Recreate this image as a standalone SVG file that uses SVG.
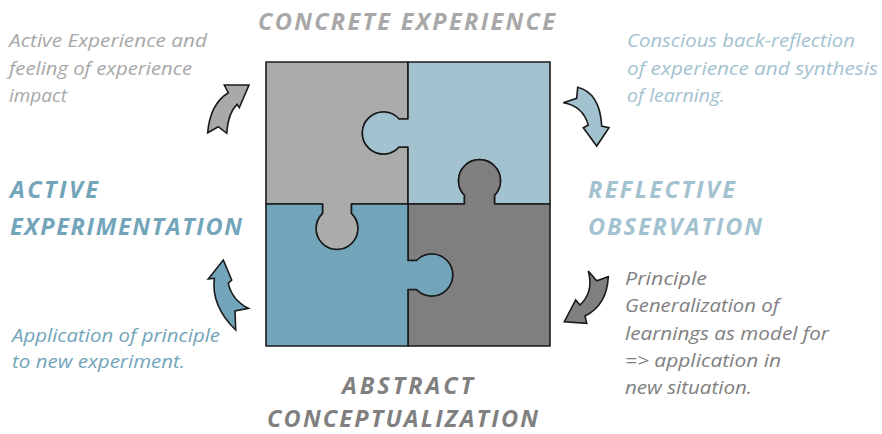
<svg xmlns="http://www.w3.org/2000/svg" width="882" height="434" viewBox="0 0 882 434">
  <style>
    .piece { stroke: #1a1a1a; stroke-width: 1.6; stroke-linejoin: round; }
    .arrow { stroke: #1a1a1a; stroke-width: 1.6; stroke-linejoin: miter; }
    .title { font-family: "Open Sans", "Liberation Sans", sans-serif; font-weight: 700; font-size: 23.5px; font-style: italic; }
    .note { font-family: "Open Sans", "Liberation Sans", sans-serif; font-size: 18px; font-style: italic; }
    .grey-l { fill: #a8a8a8; }
    .grey-d { fill: #808080; }
    .blue-l { fill: #a3c2cf; }
    .blue-d { fill: #72a5ba; }
  </style>

  <rect width="882" height="434" fill="#ffffff"/>

  <!-- Concrete experience: top-left piece -->
  <g id="concrete-experience">
    <path class="piece" fill="#aaabab" d="M266,62 H408 V119 H399 A21,21 0 1,0 399,147 H408 V204 H351.5 V213.3 A21,21 0 1,1 322.5,213.3 V204 H266 Z"/>
    <text class="title grey-l" x="258" y="30" textLength="297" lengthAdjust="spacing">CONCRETE EXPERIENCE</text>
    <text class="note grey-l" x="9" y="47" textLength="198" lengthAdjust="spacingAndGlyphs">Active Experience and</text>
    <text class="note grey-l" x="9" y="75" textLength="183" lengthAdjust="spacingAndGlyphs">feeling of experience</text>
    <text class="note grey-l" x="9" y="102" textLength="58" lengthAdjust="spacingAndGlyphs">impact</text>
  </g>

  <!-- Reflective observation: top-right piece -->
  <g id="reflective-observation">
    <path class="piece" fill="#a3c2cf" d="M408,62 H550 V204 H494.5 V195.3 A21,21 0 1,0 464.5,195.3 V204 H408 V147 H399 A21,21 0 1,1 399,119 H408 Z"/>
    <text class="title blue-l" x="588" y="198" textLength="147" lengthAdjust="spacing">REFLECTIVE</text>
    <text class="title blue-l" x="588" y="235" textLength="174" lengthAdjust="spacing">OBSERVATION</text>
    <text class="note blue-l" x="627" y="47" textLength="228" lengthAdjust="spacingAndGlyphs">Conscious back-reflection</text>
    <text class="note blue-l" x="627" y="75" textLength="251" lengthAdjust="spacingAndGlyphs">of experience and synthesis</text>
    <text class="note blue-l" x="627" y="102" textLength="98" lengthAdjust="spacingAndGlyphs">of learning.</text>
  </g>

  <!-- Abstract conceptualization: bottom-right piece -->
  <g id="abstract-conceptualization">
    <path class="piece" fill="#7f7f7f" d="M408,204 H464.5 V195.3 A21,21 0 1,1 494.5,195.3 V204 H550 V346 H408 V289.5 H416.5 A21,21 0 1,0 416.5,260.5 H408 Z"/>
    <text class="title grey-d" x="342" y="394" textLength="131" lengthAdjust="spacing">ABSTRACT</text>
    <text class="title grey-d" x="267" y="427" textLength="271" lengthAdjust="spacing">CONCEPTUALIZATION</text>
    <text class="note grey-d" x="625" y="285" textLength="82" lengthAdjust="spacingAndGlyphs">Principle</text>
    <text class="note grey-d" x="625" y="312" textLength="154" lengthAdjust="spacingAndGlyphs">Generalization of</text>
    <text class="note grey-d" x="625" y="340" textLength="204" lengthAdjust="spacingAndGlyphs">learnings as model for</text>
    <text class="note grey-d" x="625" y="367" textLength="156" lengthAdjust="spacingAndGlyphs">=&gt; application in</text>
    <text class="note grey-d" x="625" y="394" textLength="127" lengthAdjust="spacingAndGlyphs">new situation.</text>
  </g>

  <!-- Active experimentation: bottom-left piece -->
  <g id="active-experimentation">
    <path class="piece" fill="#72a5ba" d="M266,204 H322.5 V213.3 A21,21 0 1,0 351.5,213.3 V204 H408 V260.5 H416.5 A21,21 0 1,1 416.5,289.5 H408 V346 H266 Z"/>
    <text class="title blue-d" x="10" y="198" textLength="88" lengthAdjust="spacing">ACTIVE</text>
    <text class="title blue-d" x="10" y="235" textLength="232" lengthAdjust="spacing">EXPERIMENTATION</text>
    <text class="note blue-d" x="12" y="342" textLength="208" lengthAdjust="spacingAndGlyphs">Application of principle</text>
    <text class="note blue-d" x="12" y="368" textLength="173" lengthAdjust="spacingAndGlyphs">to new experiment.</text>
  </g>

  <!-- Curved cycle arrows between the stages -->
  <g id="connectors">
    <path class="arrow" fill="#a9a9a9" d="M224.3,85 L249,85 L239.3,107.7 L237,104.3 Q228,113 226.7,133.3 L218.3,126.7 L207.7,132.7 Q210,104 228.3,92.7 Z"/>
    <path class="arrow" fill="#a3c2cf" d="M577.7,87.3 Q600,93 601.7,126 L609,127.7 L596.7,146 L583.3,127.7 L588.3,125 Q583,106 563.3,102.7 L576.7,98.3 Z"/>
    <path class="arrow" fill="#7f7f7f" d="M608.3,276.7 Q607,305 585,316 L586.7,323.3 L564.3,321.7 L575.7,300 L580,305 Q594,292 588.3,271 L596.7,280.7 Z"/>
    <path class="arrow" fill="#72a5ba" d="M223.3,260 L231.7,280 L228.3,283.3 Q232,300 248.3,308.3 L235,311 L235.7,330 Q211,306 214.3,278.3 L208.3,279 Z"/>
  </g>
</svg>
